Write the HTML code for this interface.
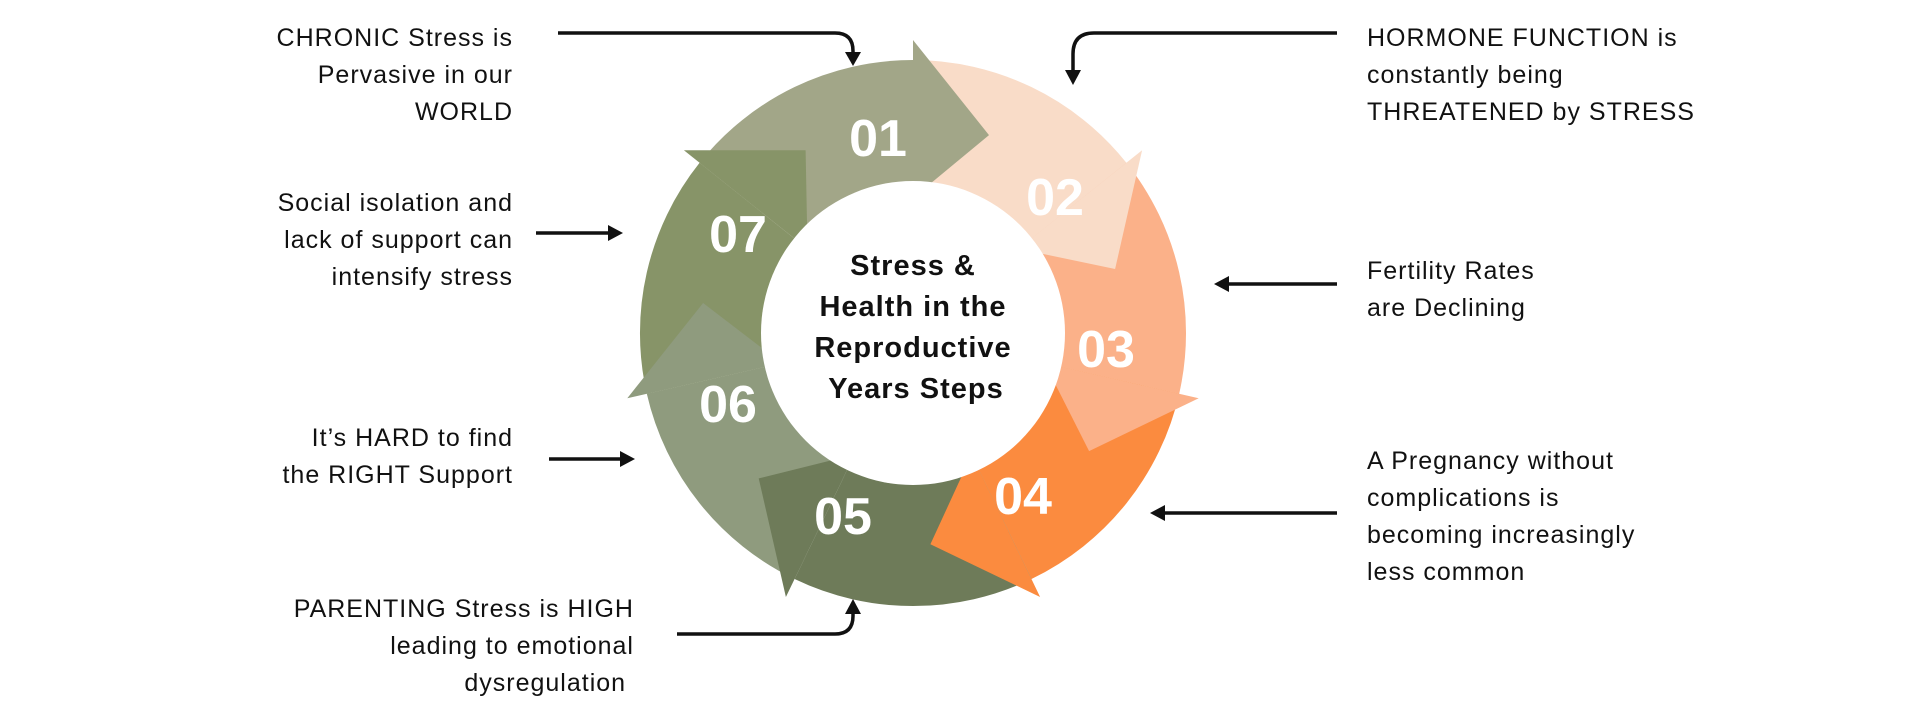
<!DOCTYPE html>
<html><head><meta charset="utf-8"><style>
html,body{margin:0;padding:0;background:#fff;}
body{width:1920px;height:714px;position:relative;overflow:hidden;font-family:"Liberation Sans",sans-serif;color:#111;}
.t{position:absolute;font-size:25px;line-height:37px;white-space:nowrap;letter-spacing:1px;}
.l{text-align:right;}
svg{position:absolute;left:0;top:0;}
</style></head><body>
<svg id="s" width="1920" height="714" viewBox="0 0 1920 714">
<g id="ring"></g>
<circle cx="913" cy="333" r="152" fill="#fff"/>
<g font-family="Liberation Sans, sans-serif" font-weight="bold" fill="#fff" font-size="52" text-anchor="middle">
<text x="878" y="156">01</text>
<text x="1055" y="215">02</text>
<text x="1106" y="367">03</text>
<text x="1023" y="514">04</text>
<text x="843" y="534">05</text>
<text x="728" y="422">06</text>
<text x="738" y="252">07</text>
</g>
<g font-family="Liberation Sans, sans-serif" font-weight="bold" fill="#111" font-size="29" letter-spacing="1" text-anchor="middle">
<text x="913" y="275">Stress &amp;</text>
<text x="913" y="316">Health in the</text>
<text x="913" y="357">Reproductive</text>
<text x="916" y="398">Years Steps</text>
</g>
<g stroke="#111" stroke-width="3.5" fill="none">
<path d="M558 33 H835 Q853 33 853 51 V54"/>
<path d="M1337 33 H1094 Q1073 33 1073 54 V70"/>
<path d="M536 233 H608"/>
<path d="M549 459 H620"/>
<path d="M677 634 H835 Q853 634 853 616 V612"/>
<path d="M1337 284 H1228"/>
<path d="M1337 513 H1164"/>
</g>
<g fill="#111">
<polygon points="845,52 861,52 853,66"/>
<polygon points="1065,70 1081,70 1073,85"/>
<polygon points="608,225 608,241 623,233"/>
<polygon points="620,451 620,467 635,459"/>
<polygon points="845,614 861,614 853,599"/>
<polygon points="1229,276 1229,292 1214,284"/>
<polygon points="1165,505 1165,521 1150,513"/>
</g>
</svg>
<div class="t l" style="right:1407px;top:20px;">CHRONIC Stress is<br>Pervasive in our<br>WORLD</div>
<div class="t l" style="right:1407px;top:185px;">Social isolation and<br>lack of support can<br>intensify stress</div>
<div class="t l" style="right:1407px;top:420px;">It’s HARD to find<br>the RIGHT Support</div>
<div class="t l" style="right:1286px;top:591px;">PARENTING Stress is HIGH<br>leading to emotional<br>dysregulation&nbsp;</div>
<div class="t" style="left:1367px;top:20px;">HORMONE FUNCTION is<br>constantly being<br>THREATENED by STRESS</div>
<div class="t" style="left:1367px;top:253px;">Fertility Rates<br>are Declining</div>
<div class="t" style="left:1367px;top:443px;">A Pregnancy without<br>complications is<br>becoming increasingly<br>less common</div>
<script>
(function(){
var cx=913,cy=333,R=273,r=140,g=document.getElementById('ring');
var cols=['#a2a688','#f9dcc8','#fbb189','#fb8b3f','#6e7b59','#8f9b7e','#879468'];
function p(a,rad){a=a*Math.PI/180;return (cx+rad*Math.cos(a)).toFixed(1)+','+(cy+rad*Math.sin(a)).toFixed(1);}
var step=360/7,bodies='',heads='';
for(var i=0;i<7;i++){
 var s=-141.43+step*i,e=s+step;
 var d='M'+p(s,R)+' A'+R+','+R+' 0 0 1 '+p(e,R)+' L'+p(e,r)+' A'+r+','+r+' 0 0 0 '+p(s,r)+' Z';
 bodies+='<path d="'+d+'" fill="'+cols[i]+'"/>';
 heads+='<polygon points="'+p(e,R+20)+' '+p(e+21,212)+' '+p(e,r-5)+'" fill="'+cols[i]+'"/>';
}
g.innerHTML=bodies+heads;
})();
</script>
</body></html>
